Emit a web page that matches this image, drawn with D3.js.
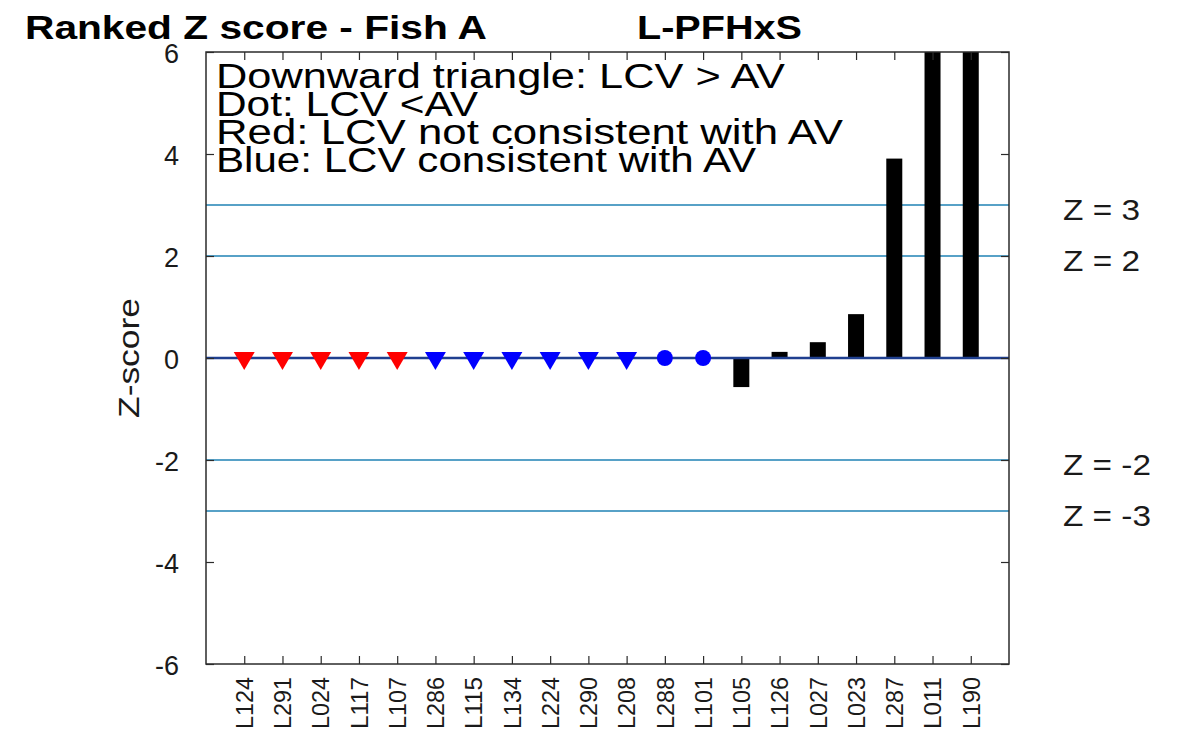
<!DOCTYPE html>
<html>
<head>
<meta charset="utf-8">
<script src="https://cdn.jsdelivr.net/npm/d3@7"></script>
<style>
  html, body { margin: 0; padding: 0; background: #ffffff; }
  svg { display: block; font-family: "Liberation Sans", Arial, Helvetica, sans-serif; }
</style>
</head>
<body>
<svg id="chart" width="1177" height="748"></svg>
<script>
// ---- Data ----
const categories = ["L124","L291","L024","L117","L107","L286","L115","L134","L224","L290","L208","L288","L101","L105","L126","L027","L023","L287","L011","L190"];
// Z-scores drawn as bars (null = no bar, a marker is drawn instead)
const zScores = [null,null,null,null,null,null,null,null,null,null,null,null,null,-0.57,0.12,0.31,0.86,3.91,6.0,6.0];
// Marker shape for laboratories without a Z-score bar
const markerShapes = ["triangle","triangle","triangle","triangle","triangle","triangle","triangle","triangle","triangle","triangle","triangle","dot","dot",null,null,null,null,null,null,null];
// Marker colour class
const markerColours = ["red","red","red","red","red","blue","blue","blue","blue","blue","blue","blue","blue",null,null,null,null,null,null,null];
const yTicks = [-6,-4,-2,0,2,4,6];
const yTickLabels = ["-6","-4","-2","0","2","4","6"];
const refLevels = [3,2,-2,-3];
const refLabels = ["Z = 3","Z = 2","Z = -2","Z = -3"];
const legendLines = ["Downward triangle: LCV > AV","Dot: LCV <AV","Red: LCV not consistent with AV","Blue: LCV consistent with AV"];
const titleText = "Ranked Z score - Fish A";
const analyteText = "L-PFHxS";

// ---- Layout ----
const svg = d3.select("#chart");
const plot = {left: 206, right: 1009, top: 52, bottom: 664};
const colourMap = {red: "#ff0000", blue: "#0000ff"};

const x = d3.scaleLinear().domain([0, categories.length + 1]).range([plot.left, plot.right]);
const y = d3.scaleLinear().domain([-6, 6]).range([plot.bottom, plot.top]);
const barW = 16;

function fit(sel, len) {
  sel.attr("textLength", len).attr("lengthAdjust", "spacingAndGlyphs");
}

svg.append("rect").attr("width", 1177).attr("height", 748).attr("fill", "#ffffff");

svg.append("defs").append("clipPath").attr("id", "clip")
  .append("rect").attr("x", plot.left).attr("y", plot.top)
  .attr("width", plot.right - plot.left).attr("height", plot.bottom - plot.top);

const g = svg.append("g");

// Legend text inside plot
const legendBaselines = [88, 116, 144, 172];
const legendWidths = [569, 262, 627, 540];
legendLines.forEach((t, i) => {
  g.append("text").attr("x", 216).attr("y", legendBaselines[i])
    .attr("font-size", 35).attr("fill", "#000").text(t)
    .call(fit, legendWidths[i]);
});

// Reference lines
g.selectAll(".ref").data(refLevels).enter().append("line")
  .attr("x1", plot.left).attr("x2", plot.right)
  .attr("y1", d => y(d)).attr("y2", d => y(d))
  .attr("stroke", "#1f82b4").attr("stroke-width", 1.7);

// Bars
const barData = categories.map((c, i) => ({c, i, v: zScores[i]})).filter(d => d.v !== null);
g.append("g").attr("clip-path", "url(#clip)")
  .selectAll("rect").data(barData).enter().append("rect")
  .attr("x", d => x(d.i + 1) - barW / 2)
  .attr("width", barW)
  .attr("y", d => y(Math.max(0, d.v)))
  .attr("height", d => Math.abs(y(d.v) - y(0)))
  .attr("fill", "#000");

// Zero line
g.append("line").attr("x1", plot.left).attr("x2", plot.right)
  .attr("y1", y(0)).attr("y2", y(0))
  .attr("stroke", "#1f3f8f").attr("stroke-width", 2.4);

// Markers
const markerData = categories.map((c, i) => ({c, i, s: markerShapes[i], col: markerColours[i]})).filter(d => d.s);
g.selectAll(".mk").data(markerData).enter().append("path")
  .attr("transform", d => d.s === "triangle"
      ? `translate(${x(d.i + 1)},${y(0)}) rotate(180)`
      : `translate(${x(d.i + 1)},${y(0)})`)
  .attr("d", d => d.s === "triangle"
      ? d3.symbol().type(d3.symbolTriangle).size(190)()
      : d3.symbol().type(d3.symbolCircle).size(200)())
  .attr("fill", d => colourMap[d.col]);

// Axes frame
const frameCol = "#2b2b2b";
g.append("rect").attr("x", plot.left).attr("y", plot.top)
  .attr("width", plot.right - plot.left).attr("height", plot.bottom - plot.top)
  .attr("fill", "none").attr("stroke", frameCol).attr("stroke-width", 1.5);

// Y axes (left labels, ticks inward both sides)
const yLeft = d3.axisLeft(y).tickValues(yTicks).tickSizeInner(-8).tickSizeOuter(0).tickPadding(27)
  .tickFormat((d, i) => yTickLabels[i]);
const yl = svg.append("g").attr("transform", `translate(${plot.left},0)`).call(yLeft);
yl.select(".domain").remove();
yl.selectAll(".tick line").attr("stroke", frameCol).attr("stroke-width", 1.2);
yl.selectAll(".tick text").attr("font-size", 27).attr("fill", "#1a1a1a")
  .attr("font-family", "'Liberation Sans', Arial, sans-serif").attr("dy", "0.4em");

const yRight = d3.axisRight(y).tickValues(yTicks).tickSizeInner(-8).tickSizeOuter(0).tickFormat("");
const yr = svg.append("g").attr("transform", `translate(${plot.right},0)`).call(yRight);
yr.select(".domain").remove();
yr.selectAll(".tick line").attr("stroke", frameCol).attr("stroke-width", 1.2);

// X axes (bottom labels, ticks inward top and bottom)
const catTicks = d3.range(1, categories.length + 1);
const xBottom = d3.axisBottom(x).tickValues(catTicks).tickSizeInner(-8).tickSizeOuter(0)
  .tickFormat(d => categories[d - 1]);
const xb = svg.append("g").attr("transform", `translate(0,${plot.bottom})`).call(xBottom);
xb.select(".domain").remove();
xb.selectAll(".tick line").attr("stroke", frameCol).attr("stroke-width", 1.2);
xb.selectAll(".tick text")
  .attr("font-size", 23).attr("fill", "#1a1a1a")
  .attr("font-family", "'Liberation Sans', Arial, sans-serif")
  .attr("text-anchor", "end")
  .attr("transform", "rotate(-90)")
  .attr("x", -13).attr("y", 0).attr("dy", "0.36em")
  .call(fit, 52);

const xTop = d3.axisTop(x).tickValues(catTicks).tickSizeInner(-8).tickSizeOuter(0).tickFormat("");
const xt = svg.append("g").attr("transform", `translate(0,${plot.top})`).call(xTop);
xt.select(".domain").remove();
xt.selectAll(".tick line").attr("stroke", frameCol).attr("stroke-width", 1.2);

// Y axis label
svg.append("text")
  .attr("transform", `translate(139,${y(0)}) rotate(-90)`)
  .attr("text-anchor", "middle").attr("font-size", 30).attr("fill", "#1a1a1a")
  .text("Z-score").call(fit, 120);

// Reference line labels (outside, right)
refLevels.forEach((lv, i) => {
  svg.append("text").attr("x", 1063).attr("y", y(lv) + 15)
    .attr("font-size", 30).attr("fill", "#1a1a1a").text(refLabels[i])
    .call(fit, lv < 0 ? 88 : 77);
});

// Titles
svg.append("text").attr("x", 25).attr("y", 39).attr("font-size", 33).attr("font-weight", "bold")
  .attr("fill", "#000").text(titleText).call(fit, 462);
svg.append("text").attr("x", 637).attr("y", 39).attr("font-size", 33).attr("font-weight", "bold")
  .attr("fill", "#000").text(analyteText).call(fit, 165);
</script>
</body>
</html>
